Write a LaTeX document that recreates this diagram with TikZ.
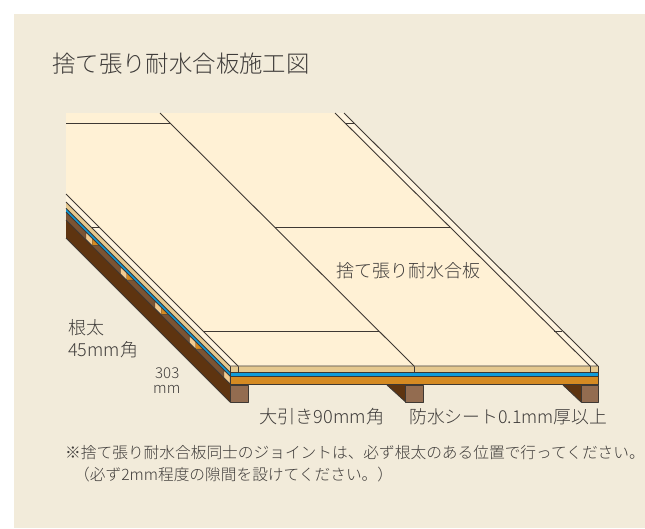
\documentclass[tikz,border=0pt]{standalone}
\usepackage{fontspec}
\setmainfont{Noto Sans CJK JP Light}
\begin{document}
\begin{tikzpicture}[x=1pt,y=-1pt,
  ln/.style={draw=lineC,line width=0.9pt,line join=round},
  label/.style={inner sep=0pt,anchor=west,text=txtC},
  ]
\definecolor{lineC}{HTML}{3E3833}
\definecolor{txtC}{HTML}{3F3C3A}
\definecolor{bg}{HTML}{F2EBDA}
\definecolor{panel}{HTML}{FFF1D5}
\definecolor{strip}{HTML}{FFF4DF}
\definecolor{tan}{HTML}{E5C88E}
\definecolor{blueS}{HTML}{0F9BD9}
\definecolor{orangeS}{HTML}{D58A22}
\definecolor{brownM}{HTML}{7C5433}
\definecolor{brownD}{HTML}{5E3410}
\definecolor{brownF}{HTML}{936C50}
\definecolor{tanJ}{HTML}{F2CB90}
\useasboundingbox (0,0) rectangle (645,528);
\fill[white] (0,0) rectangle (645,528);
\fill[bg] (14,14) rectangle (645,528);
% left side face
\fill[brownD] (66,220) -- (230,384) -- (230,402) -- (66,238) -- cycle;
\fill[brownM] (66,212) -- (230,376) -- (230,384) -- (66,220) -- cycle;
\foreach \jx in {86,120.5,155,189.5}{
  \fill[tanJ,draw=lineC,line width=0.4pt] (\jx,\jx+146.3) -- (\jx+6.3,\jx+152.3) -- (\jx+6.3,\jx+159.7) -- (\jx,\jx+153.3) -- cycle;
  \fill[orangeS] (\jx+6.3,\jx+152.3) -- (\jx+14.7,\jx+159.7) -- (\jx+6.3,\jx+159.7) -- cycle;
  \draw[draw=lineC,line width=0.5pt] (\jx+6.3,\jx+152.3) -- (\jx+14.7,\jx+159.7) -- (\jx+6.3,\jx+159.7);
}
\fill[tanJ,draw=lineC,line width=0.4pt] (224,370.3) -- (230,376) -- (230,384) -- (224,378) -- cycle;
\draw[ln] (66,220) -- (230,384);
\draw[ln] (66,238) -- (230,402);
\fill[tan] (66,208) -- (230,372) -- (230,366) -- (66,202) -- cycle;
\fill[blueS] (66,208.3) -- (230,372.3) -- (230,376) -- (66,212) -- cycle;
\draw[ln] (66,208.3) -- (230,372.3);
\draw[ln] (66,212) -- (230,376);
% sleepers
\fill[brownD] (387,385) -- (405.7,402) -- (405.7,385) -- cycle;
\draw[ln] (387,385) -- (405.7,402);
\fill[brownD] (563,385) -- (581,402) -- (581,385) -- cycle;
\draw[ln] (563,385) -- (581,402);
\draw[ln,fill=brownF] (230.5,385) rectangle (248,402);
\draw[ln,fill=brownF] (405.7,385) rectangle (423.3,402);
\draw[ln,fill=brownF] (581,385) rectangle (598.3,402);
% front face
\fill[tan] (230,366) rectangle (598,372);
\fill[blueS] (230,372) rectangle (598,376);
\fill[orangeS] (230,376) rectangle (598,384.5);
\draw[ln] (230,372) -- (598,372);
\draw[ln] (230,376) -- (598,376);
\draw[ln] (230,384.7) -- (598,384.7);
\draw[ln] (230,366) -- (230,402);
\draw[ln] (598,366) -- (598,385);
\draw[ln] (238,366) -- (238,372);
\draw[ln] (414,366) -- (414,372);
\draw[ln] (590,366) -- (590,372);
% top faces
\fill[strip] (66,113) -- (344,113) -- (598,366) -- (230,366) -- (66,202) -- cycle;
\fill[panel] (66,113) -- (335,113) -- (590,366) -- (238,366) -- (66,194) -- cycle;
\draw[ln] (66,202) -- (230,366) -- (598,366) -- (344,113);
\draw[ln] (66,194) -- (238,366);
\draw[ln] (335,113) -- (590,366);
\draw[ln] (160,113) -- (414,366);
\draw[ln] (66,123.3) -- (170.5,123.3);
\draw[ln] (275,227.3) -- (450,227.3);
\draw[ln] (203,331) -- (379,331);
\draw[ln] (91,227.3) -- (100,227.3);
\draw[ln] (346,123.3) -- (354,123.3);
\draw[ln] (554,331) -- (562,331);
% labels
\node[label,font=\fontsize{23.4}{23.4}\selectfont] (title) at (52,64) {捨て張り耐水合板施工図};
\node[label,font=\fontsize{18}{18}\selectfont] (ply) at (336,271) {捨て張り耐水合板};
\node[label,font=\fontsize{18}{18}\selectfont] (neda) at (68,328) {根太};
\node[label,font=\fontsize{18}{18}\selectfont] (nedaS) at (68,350) {45mm角};
\node[label,font=\fontsize{15}{15}\selectfont] (n303) at (155,373) {303};
\node[label,font=\fontsize{15}{15}\selectfont] (nmm) at (153,389) {mm};
\node[label,font=\fontsize{18.2}{18.2}\selectfont] (obiki) at (259,417) {大引き90mm角};
\node[label,font=\fontsize{17.8}{17.8}\selectfont] (sheet) at (409,417) {防水シート0.1mm厚以上};
\node[label,font=\fontsize{15.7}{15.7}\selectfont] (note1) at (65,453) {※捨て張り耐水合板同士のジョイントは、必ず根太のある位置で行ってください。};
\node[label,font=\fontsize{15.7}{15.7}\selectfont] (note2) at (74,475) {（必ず2mm程度の隙間を設けてください。）};
\end{tikzpicture}
\end{document}
